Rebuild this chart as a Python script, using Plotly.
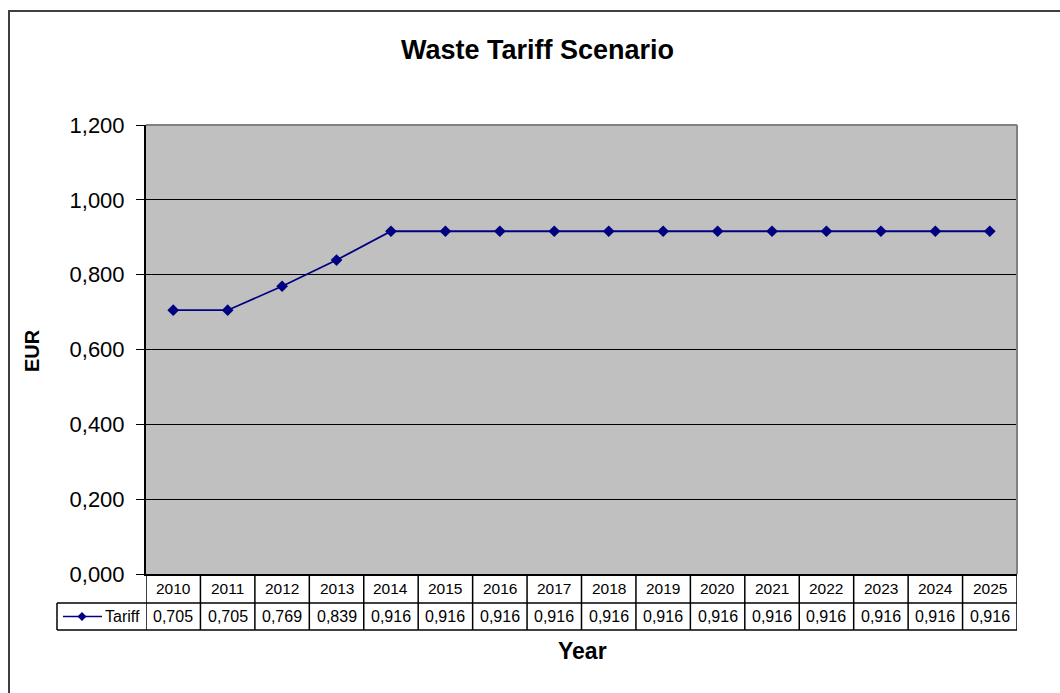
import plotly.graph_objects as go

years = ["2010", "2011", "2012", "2013", "2014", "2015", "2016", "2017",
         "2018", "2019", "2020", "2021", "2022", "2023", "2024", "2025"]
tariff = [0.705, 0.705, 0.769, 0.839, 0.916, 0.916, 0.916, 0.916,
          0.916, 0.916, 0.916, 0.916, 0.916, 0.916, 0.916, 0.916]
series_name = "Tariff"
title_text = "Waste Tariff Scenario"
y_title = "EUR"
x_title = "Year"
y_ticks = [0.0, 0.2, 0.4, 0.6, 0.8, 1.0, 1.2]

W, H = 1060, 693
L, R, T, B = 146, 1017, 125, 574  # plot area in pixels
PW, PH = R - L, B - T


def px(x):
    return (x - L) / PW


def py(y):
    return (B - y) / PH


FONT = "Liberation Sans, Arial, sans-serif"
NAVY = "#000080"

idx = list(range(len(years)))

fig = go.Figure()
fig.add_trace(go.Scatter(
    x=idx, y=tariff, mode="lines+markers", name=series_name,
    line=dict(color=NAVY, width=1.8),
    marker=dict(symbol="diamond", size=9, color=NAVY),
    showlegend=False, cliponaxis=False,
))

shapes = []
annotations = []

# outer chart border
shapes.append(dict(type="rect", xref="paper", yref="paper",
                   x0=px(9), x1=px(1075), y0=py(11), y1=py(705),
                   line=dict(color="#404040", width=2), layer="above"))
# plot area top/right border (gray)
shapes.append(dict(type="line", xref="paper", yref="paper",
                   x0=0, x1=1, y0=1, y1=1, line=dict(color="#808080", width=2)))
shapes.append(dict(type="line", xref="paper", yref="paper",
                   x0=1, x1=1, y0=0, y1=1, line=dict(color="#808080", width=2)))

# data table
row1_top, row1_bot, row2_bot = 574, 603, 630
leg_left = 57
for i in range(len(years) + 1):
    shapes.append(dict(type="line", xref="x", yref="paper",
                       x0=i - 0.5, x1=i - 0.5, y0=py(row1_top), y1=py(row2_bot),
                       line=dict(color="black", width=1.5)))
shapes.append(dict(type="line", xref="paper", yref="paper",
                   x0=px(leg_left), x1=1, y0=py(row1_bot), y1=py(row1_bot),
                   line=dict(color="black", width=1.5)))
shapes.append(dict(type="line", xref="paper", yref="paper",
                   x0=px(leg_left), x1=1, y0=py(row2_bot), y1=py(row2_bot),
                   line=dict(color="black", width=1.5)))
shapes.append(dict(type="line", xref="paper", yref="paper",
                   x0=px(leg_left), x1=px(leg_left), y0=py(row1_bot), y1=py(row2_bot),
                   line=dict(color="black", width=1.5)))
# legend key: line + diamond
key_y = (row1_bot + row2_bot) / 2
shapes.append(dict(type="line", xref="paper", yref="paper",
                   x0=px(63), x1=px(102), y0=py(key_y), y1=py(key_y),
                   line=dict(color=NAVY, width=1.5)))
cx, d = 82, 4.5
shapes.append(dict(type="path", xref="paper", yref="paper",
                   path=f"M {px(cx - d)} {py(key_y)} L {px(cx)} {py(key_y - d)} "
                        f"L {px(cx + d)} {py(key_y)} L {px(cx)} {py(key_y + d)} Z",
                   fillcolor=NAVY, line=dict(color=NAVY, width=0)))
annotations.append(dict(text=series_name, xref="paper", yref="paper",
                        x=px(103), y=py(key_y), xanchor="left", yanchor="middle",
                        showarrow=False, font=dict(family=FONT, size=16, color="black")))

for i, (yr, v) in enumerate(zip(years, tariff)):
    annotations.append(dict(text=yr, xref="x", yref="paper", x=i,
                            y=py((row1_top + row1_bot) / 2), xanchor="center",
                            yanchor="middle", showarrow=False,
                            font=dict(family=FONT, size=15.5, color="black")))
    annotations.append(dict(text=f"{v:.3f}".replace(".", ","), xref="x", yref="paper",
                            x=i, y=py(key_y), xanchor="center", yanchor="middle",
                            showarrow=False,
                            font=dict(family=FONT, size=16, color="black")))

# titles
annotations.append(dict(text=f"<b>{title_text}</b>", xref="paper", yref="paper",
                        x=px(537), y=py(50), xanchor="center", yanchor="middle",
                        showarrow=False, font=dict(family=FONT, size=27, color="black")))
annotations.append(dict(text=f"<b>{y_title}</b>", xref="paper", yref="paper",
                        x=px(32), y=py(350), xanchor="center", yanchor="middle",
                        textangle=-90, showarrow=False,
                        font=dict(family=FONT, size=20, color="black")))
annotations.append(dict(text=f"<b>{x_title}</b>", xref="paper", yref="paper",
                        x=px(582), y=py(651), xanchor="center", yanchor="middle",
                        showarrow=False, font=dict(family=FONT, size=23, color="black")))

fig.update_layout(
    width=W, height=H,
    margin=dict(l=L, r=W - R, t=T, b=H - B, pad=0),
    paper_bgcolor="white", plot_bgcolor="#C0C0C0",
    separators=",.",
    font=dict(family=FONT, color="black"),
    shapes=shapes, annotations=annotations,
    xaxis=dict(range=[-0.5, len(years) - 0.5], showticklabels=False, ticks="",
               showgrid=False, zeroline=False, showline=True, linecolor="black",
               linewidth=2, fixedrange=True),
    yaxis=dict(range=[0, 1.2], tickvals=y_ticks, tickformat=".3f",
               ticks="outside", ticklen=8, tickwidth=1, tickcolor="black",
               showgrid=True, gridcolor="black", gridwidth=1, zeroline=False,
               showline=True, linecolor="black", linewidth=2,
               tickfont=dict(family=FONT, size=22, color="black"),
               ticklabelstandoff=7, fixedrange=True),
    showlegend=False,
)

fig.write_html("out.html")
